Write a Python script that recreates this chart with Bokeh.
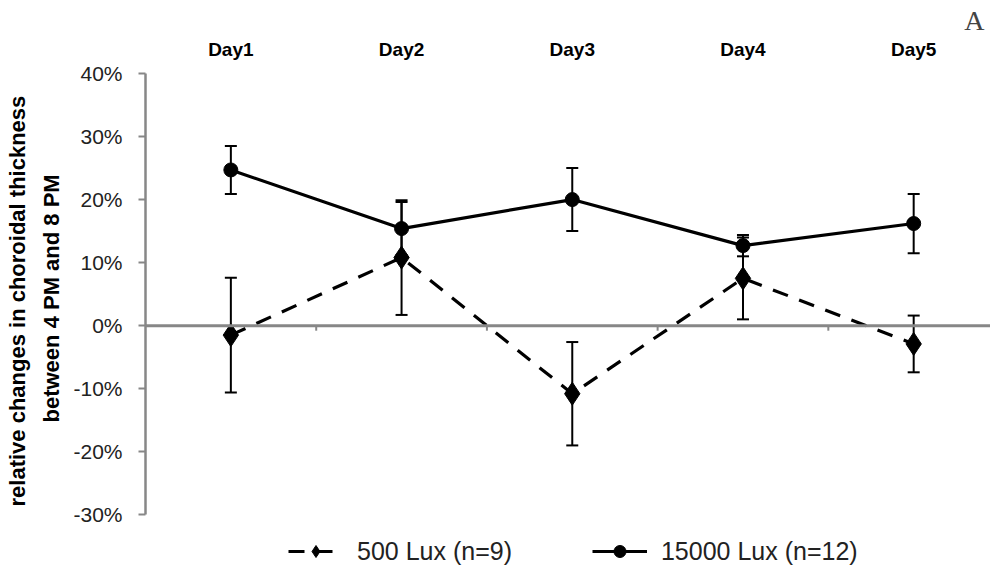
from bokeh.plotting import figure
from bokeh.models import (ColumnDataSource, Whisker, TeeHead, Range1d, FixedTicker,
                          NumeralTickFormatter, Legend, LegendItem, Span, Title)
from bokeh.embed import file_html
from bokeh.resources import INLINE

days = ["Day1", "Day2", "Day3", "Day4", "Day5"]
lux500 = [-0.015, 0.108, -0.108, 0.075, -0.029]
lux500_err = [0.091, 0.091, 0.082, 0.065, 0.045]
lux15000 = [0.247, 0.154, 0.200, 0.127, 0.162]
lux15000_err = [0.038, 0.042, 0.050, 0.017, 0.047]
y_ticks = [-0.3, -0.2, -0.1, 0.0, 0.1, 0.2, 0.3, 0.4]
y_title = ["relative changes in choroidal thickness", "between 4 PM and 8 PM"]

xs = list(range(1, len(days) + 1))

p = figure(frame_width=845, frame_height=498, output_backend="svg", toolbar_location=None,
           x_range=Range1d(0.5, 5.45), y_range=Range1d(-0.39, 0.40),
           x_axis_location="above", min_border_left=145, min_border_top=73,
           min_border_right=0, min_border_bottom=0)
p.outline_line_color = None
p.xgrid.visible = False
p.ygrid.visible = False
p.background_fill_color = "white"

# title "A"
p.title.text = "A"
p.title.align = "right"
p.title.text_font = "Liberation Serif"
p.title.text_font_style = "normal"
p.title.text_font_size = "28px"
p.title.offset = 6
p.title.standoff = 0

# x axis (above) -> Day labels
xa = p.xaxis[0]
xa.ticker = FixedTicker(ticks=xs)
xa.major_label_overrides = {x: d for x, d in zip(xs, days)}
xa.axis_line_color = None
xa.major_tick_line_color = None
xa.minor_tick_line_color = None
xa.major_label_text_font = "Liberation Sans"
xa.major_label_text_font_style = "bold"
xa.major_label_text_font_size = "19px"
xa.major_label_text_color = "black"
xa.major_label_standoff = 8

# y axis
ya = p.yaxis[0]
ya.ticker = FixedTicker(ticks=y_ticks)
ya.bounds = (y_ticks[0], y_ticks[-1])
ya.formatter = NumeralTickFormatter(format="0%")
ya.axis_line_color = "#878787"
ya.axis_line_width = 2.5
ya.major_tick_line_color = "#878787"
ya.major_tick_line_width = 2
ya.major_tick_out = 7
ya.major_tick_in = 0
ya.minor_tick_line_color = None
ya.major_label_text_font = "Liberation Sans"
ya.major_label_text_font_size = "21px"
ya.major_label_text_color = "#222222"
ya.major_label_standoff = 16

# y axis title: two rotated lines in the left panel
for line_text, off, so in ((y_title[1], 149, 14), (y_title[0], 65, 0)):
    t = Title(text=line_text, align="left", offset=off, standoff=so,
              text_font="Liberation Sans", text_font_style="bold",
              text_font_size="22px", text_color="black")
    p.add_layout(t, "left")

# zero line with category separators
p.add_layout(Span(location=0, dimension="width", line_color="#878787", line_width=3))
sep = [x + 0.5 for x in xs[:-1]]
p.segment(x0=sep, x1=sep, y0=[0] * len(sep), y1=[-0.008] * len(sep),
          line_color="#878787", line_width=2)

src500 = ColumnDataSource(dict(x=xs, y=lux500,
                               lo=[v - e for v, e in zip(lux500, lux500_err)],
                               hi=[v + e for v, e in zip(lux500, lux500_err)]))
src15k = ColumnDataSource(dict(x=xs, y=lux15000,
                               lo=[v - e for v, e in zip(lux15000, lux15000_err)],
                               hi=[v + e for v, e in zip(lux15000, lux15000_err)]))

for src in (src500, src15k):
    w = Whisker(base="x", lower="lo", upper="hi", source=src,
                line_color="black", line_width=2,
                upper_head=TeeHead(size=12, line_width=2, line_color="black"),
                lower_head=TeeHead(size=12, line_width=2, line_color="black"))
    p.add_layout(w)

l1 = p.line("x", "y", source=src500, line_color="black", line_width=3.2, line_dash="16 12")
m1 = p.scatter("x", "y", source=src500, marker="diamond", size=23, color="black")
l2 = p.line("x", "y", source=src15k, line_color="black", line_width=3.2)
m2 = p.scatter("x", "y", source=src15k, marker="circle", size=14, color="black")

legend = Legend(items=[LegendItem(label="500 Lux (n=9)", renderers=[l1, m1]),
                       LegendItem(label="15000 Lux (n=12)", renderers=[l2, m2])],
                orientation="horizontal", location=(143, 5))
legend.label_text_font = "Liberation Sans"
legend.label_text_font_size = "25px"
legend.label_text_color = "#222222"
legend.glyph_width = 55
legend.glyph_height = 30
legend.spacing = 80
legend.label_standoff = 14
legend.border_line_color = None
legend.background_fill_alpha = 0
legend.margin = 0
legend.padding = 2
p.add_layout(legend)

open("out.html", "w").write(file_html(p, INLINE))
